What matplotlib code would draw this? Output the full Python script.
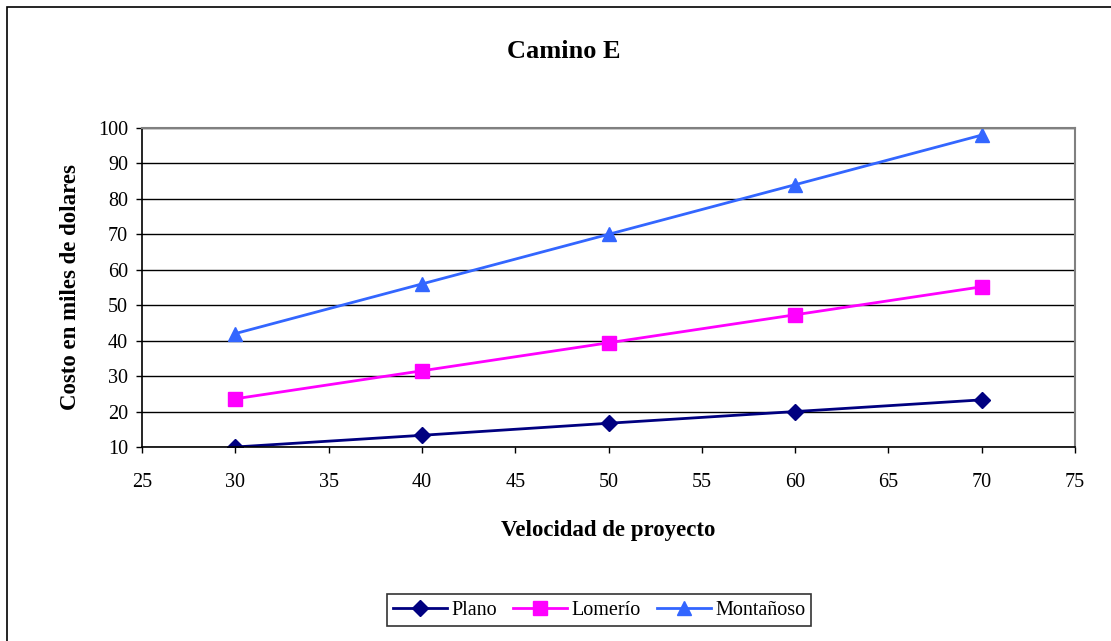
import numpy as np
import matplotlib.pyplot as plt
from matplotlib.patches import Rectangle

plt.rcParams['font.family'] = ['Liberation Serif', 'DejaVu Serif']

velocidad = [30, 40, 50, 60, 70]
plano = [10.0, 13.3, 16.7, 20.0, 23.3]
lomerio = [23.6, 31.5, 39.4, 47.3, 55.2]
montanoso = [42, 56, 70, 84, 98]

fig = plt.figure(figsize=(11.11, 6.41), dpi=100)
# outer chart border
fig.patches.append(Rectangle((7 / 1111, -0.01), 1.02, 1 - 7 / 641 + 0.01,
                             transform=fig.transFigure, fill=False,
                             edgecolor='black', linewidth=1.2))

ax = fig.add_axes([142 / 1111, 1 - 447 / 641, (1075 - 142) / 1111, (447 - 128) / 641])

ax.plot(velocidad, plano, color='#000080', marker='D', markersize=8, linewidth=2, label='Plano')
ax.plot(velocidad, lomerio, color='#FF00FF', marker='s', markersize=10, linewidth=2, label='Lomerío')
ax.plot(velocidad, montanoso, color='#3366FF', marker='^', markersize=10, linewidth=2, label='Montañoso')

ax.set_xlim(25, 75)
ax.set_ylim(10, 100)
ax.set_xticks(np.arange(25, 80, 5))
ax.set_yticks(np.arange(10, 110, 10))
ax.grid(axis='y', color='black', linewidth=1)
ax.set_axisbelow(True)
for s in ['top', 'right']:
    ax.spines[s].set_color('#808080')
    ax.spines[s].set_linewidth(1.5)
for s in ['left', 'bottom']:
    ax.spines[s].set_color('black')
    ax.spines[s].set_linewidth(1.2)
ax.tick_params(direction='out', length=4, labelsize=14.5, width=1)
ax.tick_params(axis='x', pad=15)
ax.tick_params(axis='y', pad=6)

ax.set_xlabel('Velocidad de proyecto', fontsize=16.5, fontweight='bold', labelpad=20)
ax.set_ylabel('Costo en miles de dolares', fontsize=16.5, fontweight='bold', labelpad=12)
fig.text(564 / 1111, 1 - 52 / 641, 'Camino E', ha='center', va='center', fontsize=19, fontweight='bold')

leg = fig.legend(loc='center', bbox_to_anchor=(599 / 1111, 1 - 610 / 641), ncol=3,
                 fontsize=14.5, frameon=True, fancybox=False, edgecolor='black',
                 handlelength=2.7, handletextpad=0.2, columnspacing=0.8, borderpad=0.3)
leg.get_frame().set_linewidth(1.2)

fig.savefig('out.png', dpi=100)
